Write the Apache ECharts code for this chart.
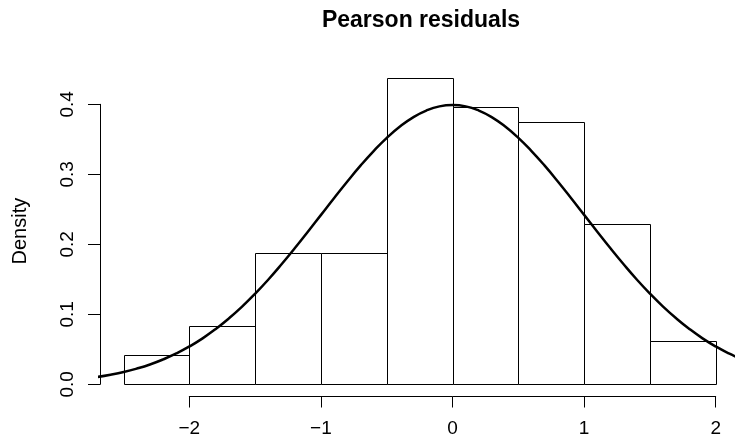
<!DOCTYPE html>
<html>
<head>
<meta charset="utf-8">
<script src="https://cdn.jsdelivr.net/npm/echarts@6/dist/echarts.min.js"></script>
<style>
html,body{margin:0;padding:0;background:#fff;}
#chart{width:735px;height:443px;}
</style>
</head>
<body>
<div id="chart"></div>
<script>
// histogram bins (left edges) and densities
var binStart = [-2.5, -2, -1.5, -1, -0.5, 0, 0.5, 1, 1.5];
var binWidth = 0.5;
var density = [0.0417, 0.0833, 0.1875, 0.1875, 0.4375, 0.3958, 0.375, 0.2292, 0.0625];
// normal density curve
var curveX = [-2.7,-2.6,-2.5,-2.4,-2.3,-2.2,-2.1,-2.0,-1.9,-1.8,-1.7,-1.6,-1.5,-1.4,-1.3,-1.2,-1.1,-1.0,-0.9,-0.8,-0.7,-0.6,-0.5,-0.4,-0.3,-0.2,-0.1,0,
  0.1,0.2,0.3,0.4,0.5,0.6,0.7,0.8,0.9,1.0,1.1,1.2,1.3,1.4,1.5,1.6,1.7,1.8,1.9,2.0,2.1,2.2];
var curveY = [0.0104,0.0136,0.0175,0.0224,0.0283,0.0355,0.0440,0.0540,0.0656,0.0790,0.0941,0.1109,0.1295,0.1497,0.1714,0.1942,0.2179,0.2420,0.2661,0.2897,0.3123,0.3332,0.3521,0.3683,0.3814,0.3910,0.3970,0.3989,
  0.3970,0.3910,0.3814,0.3683,0.3521,0.3332,0.3123,0.2897,0.2661,0.2420,0.2179,0.1942,0.1714,0.1497,0.1295,0.1109,0.0941,0.0790,0.0656,0.0540,0.0440,0.0355];
var xTicks = [-2, -1, 0, 1, 2];
var yTicks = [0, 0.1, 0.2, 0.3, 0.4];

var FONT = 'Liberation Sans';
var chart = echarts.init(document.getElementById('chart'));

var bars = binStart.map(function (s, i) { return [s, s + binWidth, density[i]]; });
var curve = curveX.map(function (x, i) { return [x, curveY[i]]; });

chart.setOption({
  animation: false,
  title: {
    text: 'Pearson residuals',
    left: 416, top: 4, textAlign: 'center',
    textStyle: { fontFamily: FONT, fontSize: 23, fontWeight: 'bold', color: '#000' }
  },
  grid: [
    { left: 100, width: 635, top: 65.8, height: 330.7 },     // plot region (runs off the right edge)
    { left: 189.3, width: 526.4, top: 65.8, height: 330.7 }, // x axis (-2..2)
    { left: 100, width: 600, top: 104.3, height: 280 }       // y axis (0..0.4)
  ],
  xAxis: [
    { type: 'value', gridIndex: 0, min: -2.68, max: 2.1467, show: false },
    { type: 'value', gridIndex: 1, min: xTicks[0], max: xTicks[xTicks.length - 1], interval: 1, position: 'bottom',
      axisLine: { show: true, lineStyle: { color: '#000', width: 1 } },
      axisTick: { show: true, length: 11, lineStyle: { color: '#000' } },
      axisLabel: { margin: 23, fontFamily: FONT, fontSize: 19, color: '#000',
        formatter: function (v) { return v < 0 ? '\u2212' + Math.abs(v) : String(v); } },
      splitLine: { show: false } },
    { type: 'value', gridIndex: 2, min: 0, max: 1, show: false }
  ],
  yAxis: [
    { type: 'value', gridIndex: 0, min: -0.0175, max: 0.455,
      name: 'Density', nameLocation: 'middle', nameGap: 70, nameRotate: 90,
      nameTextStyle: { fontFamily: FONT, fontSize: 20, color: '#000' },
      axisLine: { show: false }, axisTick: { show: false }, axisLabel: { show: false }, splitLine: { show: false } },
    { type: 'value', gridIndex: 1, min: 0, max: 1, show: false },
    { type: 'value', gridIndex: 2, min: yTicks[0], max: yTicks[yTicks.length - 1], interval: 0.1,
      axisLine: { show: true, lineStyle: { color: '#000', width: 1 } },
      axisTick: { show: true, length: 12, lineStyle: { color: '#000' } },
      axisLabel: { rotate: 90, margin: 23, fontFamily: FONT, fontSize: 19, color: '#000',
        formatter: function (v) { return v.toFixed(1); } },
      splitLine: { show: false } }
  ],
  series: [
    {
      type: 'custom', xAxisIndex: 0, yAxisIndex: 0, data: bars,
      renderItem: function (params, api) {
        var p0 = api.coord([api.value(0), api.value(2)]);
        var p1 = api.coord([api.value(1), 0]);
        return {
          type: 'rect',
          shape: { x: Math.round(p0[0]) + 0.5, y: Math.round(p0[1]) + 0.5,
                   width: Math.round(p1[0]) - Math.round(p0[0]), height: Math.round(p1[1]) - Math.round(p0[1]) },
          style: { fill: '#fff', stroke: '#000', lineWidth: 1 }
        };
      }
    },
    {
      type: 'line', xAxisIndex: 0, yAxisIndex: 0, data: curve, smooth: true,
      showSymbol: false, lineStyle: { color: '#000', width: 2.5 }
    }
  ]
});
</script>
</body>
</html>
